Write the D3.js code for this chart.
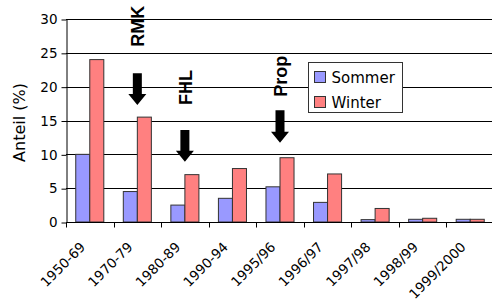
<!DOCTYPE html>
<html>
<head>
<meta charset="utf-8">
<script src="https://cdn.jsdelivr.net/npm/d3@7/dist/d3.min.js"></script>
<style>
  body { margin: 0; background: #fff; }
  svg text { font-family: "DejaVu Sans", Verdana, sans-serif; fill: #000; }
</style>
</head>
<body>
<div id="container"></div>
<script>
// data //
const categories = ['1950-69', '1970-79', '1980-89', '1990-94', '1995/96', '1996/97', '1997/98', '1998/99', '1999/2000']
const sommer = [10, 4.5, 2.5, 3.5, 5.2, 2.9, 0.35, 0.4, 0.4]
const winter = [24, 15.5, 7, 7.9, 9.5, 7.1, 2, 0.55, 0.4]
const seriesNames = ['Sommer', 'Winter']
const seriesColors = ['#9999FF', '#FF8080']
const yTicks = [0, 5, 10, 15, 20, 25, 30]
// annotations: label, category, value at bottom of text, arrow top and tip values
const annotations = [
    { label: 'RMK', category: '1970-79', textBottom: 25.9, arrowTop: 22, arrowTip: 17.3 },
    { label: 'FHL', category: '1980-89', textBottom: 17.3, arrowTop: 13.6, arrowTip: 8.9 },
    { label: 'Prop', category: '1995/96', textBottom: 18.5, arrowTop: 16.5, arrowTip: 11.7 }
]

const width = 492
const height = 302
const margin = { top: 19, left: 66, bottom: 80 }

const svg = d3
    .select('#container')
    .append('svg')
    .attr('width', width)
    .attr('height', height)

const x = d3
    .scaleBand()
    .domain(categories)
    .range([margin.left, 494])
    .paddingInner(0.41)
    .paddingOuter(0.205)

const xInner = d3.scaleBand().domain(seriesNames).range([0, x.bandwidth()])

const y = d3
    .scaleLinear()
    .domain([0, 30])
    .range([height - margin.bottom, margin.top])

// gridlines
svg.append('g')
    .selectAll('line')
    .data(yTicks.slice(1))
    .join('line')
    .attr('x1', margin.left)
    .attr('x2', width)
    .attr('y1', (d) => Math.round(y(d)) + 0.5)
    .attr('y2', (d) => Math.round(y(d)) + 0.5)
    .attr('stroke', '#000')

// bars
const rows = categories.map((c, i) => ({ category: c, values: [sommer[i], winter[i]] }))

svg.append('g')
    .selectAll('g')
    .data(rows)
    .join('g')
    .attr('transform', (d) => `translate(${x(d.category)},0)`)
    .selectAll('rect')
    .data((d) => d.values.map((v, j) => ({ name: seriesNames[j], value: v, color: seriesColors[j] })))
    .join('rect')
    .attr('x', (d) => xInner(d.name))
    .attr('width', xInner.bandwidth())
    .attr('y', (d) => y(d.value))
    .attr('height', (d) => y(0) - y(d.value))
    .attr('fill', (d) => d.color)
    .attr('stroke', '#333')
    .attr('stroke-width', 1)

// y axis
const yAxis = svg
    .append('g')
    .attr('transform', `translate(${margin.left + 0.5},0.5)`)
    .call(d3.axisLeft(y).tickValues(yTicks).tickSize(5).tickSizeOuter(0).tickPadding(4))
yAxis.select('.domain').attr('stroke', '#000')
yAxis.selectAll('text').style('font-size', '13.5px')

// x axis line + ticks at band boundaries
const xBase = Math.round(y(0)) + 0.5
svg.append('line')
    .attr('x1', margin.left)
    .attr('x2', width)
    .attr('y1', xBase)
    .attr('y2', xBase)
    .attr('stroke', '#000')

svg.append('g')
    .selectAll('line')
    .data(d3.range(categories.length + 1))
    .join('line')
    .attr('x1', (i) => Math.round(x.range()[0] + i * x.step()) + 0.5)
    .attr('x2', (i) => Math.round(x.range()[0] + i * x.step()) + 0.5)
    .attr('y1', xBase)
    .attr('y2', xBase + 5)
    .attr('stroke', '#000')

svg.append('g')
    .selectAll('text')
    .data(categories)
    .join('text')
    .attr('transform', (d) => `translate(${x(d) + x.bandwidth() / 2 - 7},${xBase + 22}) rotate(-45)`)
    .attr('text-anchor', 'end')
    .attr('dy', '0.35em')
    .style('font-size', '13.5px')
    .text((d) => d)

// y title
svg.append('text')
    .attr('transform', `translate(25,${(y(0) + y(30)) / 2 + 2}) rotate(-90)`)
    .attr('text-anchor', 'middle')
    .style('font-size', '16px')
    .text('Anteil (%)')

// annotations
annotations.forEach((a) => {
    const cx = x(a.category) + x.bandwidth() / 2
    svg.append('text')
        .attr('transform', `translate(${cx + 7},${y(a.textBottom)}) rotate(-90)`)
        .attr('text-anchor', 'start')
        .style('font-family', '"Liberation Sans", Arial, sans-serif')
        .style('font-weight', 'bold')
        .style('font-size', '18px')
        .text(a.label)

    const top = y(a.arrowTop)
    const tip = y(a.arrowTip)
    const headLen = 11
    svg.append('path')
        .attr('d', `M${cx - 4.5},${top} H${cx + 4.5} V${tip - headLen} H${cx + 9} L${cx},${tip} L${cx - 9},${tip - headLen} H${cx - 4.5} Z`)
        .attr('fill', '#000')
})

// legend
const legend = svg.append('g').attr('transform', 'translate(308.5,62.5)')
legend.append('rect')
    .attr('width', 94)
    .attr('height', 50)
    .attr('fill', '#fff')
    .attr('stroke', '#333')

legend.selectAll('g')
    .data(seriesNames)
    .join('g')
    .attr('transform', (d, i) => `translate(6,${9 + i * 25})`)
    .call((g) => {
        g.append('rect')
            .attr('width', 11)
            .attr('height', 11)
            .attr('fill', (d, i) => seriesColors[i])
            .attr('stroke', '#333')
        g.append('text')
            .attr('x', 17)
            .attr('y', 6)
            .attr('dy', '0.35em')
            .style('font-size', '15px')
            .text((d) => d)
    })
</script>
</body>
</html>
